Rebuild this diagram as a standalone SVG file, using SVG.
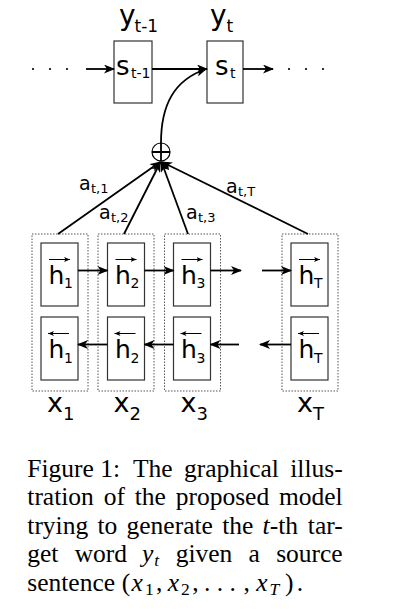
<svg xmlns="http://www.w3.org/2000/svg" width="400" height="614" viewBox="0 0 400 614">
<style>
.lbl{font-family:"DejaVu Sans","Bitstream Vera Sans",sans-serif;fill:#000}
.box{fill:#fff;stroke:#333;stroke-width:1.2}
.outer{fill:none;stroke:#555;stroke-width:1;stroke-dasharray:1.5 1.5}
.con{fill:none;stroke:#000;stroke-width:1.8}
.vec{fill:none;stroke:#000;stroke-width:1}
.cap{font-family:"Liberation Serif","Times New Roman",serif;font-size:25.5px;fill:#000}
.it{font-style:italic}
.sub{font-size:17.5px}
</style>
<defs>
<marker id="arr" viewBox="0 0 11 9" refX="10" refY="4.5" markerWidth="11" markerHeight="9" markerUnits="userSpaceOnUse" orient="auto">
<path d="M0,0 L11,4.5 L0,9 L3,4.5 z" fill="#000"/>
</marker>
<marker id="sarr" viewBox="0 0 6 5" refX="6" refY="2.5" markerWidth="6" markerHeight="5" markerUnits="userSpaceOnUse" orient="auto">
<path d="M0,0 L6,2.5 L0,5 L1.5,2.5 z" fill="#000"/>
</marker>
</defs>
<rect width="400" height="614" fill="#fff"/>

<!-- decoder -->
<g id="y_prev" class="lbl"><text x="119" y="25" font-size="28">y</text><text x="134.5" y="32" font-size="17">t-1</text></g>
<g id="y_t" class="lbl"><text x="210" y="25" font-size="28">y</text><text x="226.5" y="32" font-size="17">t</text></g>
<g id="s_prev"><rect class="box" x="114" y="41" width="38" height="62"/><g class="lbl"><text x="116" y="75" font-size="26">s</text><text x="131" y="78" font-size="14">t-1</text></g></g>
<g id="s_t"><rect class="box" x="207" y="41" width="36" height="62"/><g class="lbl"><text x="215" y="75" font-size="26">s</text><text x="230" y="78" font-size="14">t</text></g></g>
<g id="dots_left" fill="#000"><circle cx="33" cy="69" r="1.1"/><circle cx="50" cy="69" r="1.1"/><circle cx="67" cy="69" r="1.1"/></g>
<g id="dots_right" fill="#000"><circle cx="289" cy="69" r="1.1"/><circle cx="306" cy="69" r="1.1"/><circle cx="323" cy="69" r="1.1"/></g>

<!-- sum node -->
<g id="sum"><circle cx="161" cy="152" r="9" fill="#fff" stroke="#000" stroke-width="1.2"/><path d="M152,152 H170 M161,143 V161" stroke="#000" stroke-width="1.8"/></g>

<!-- encoder columns -->
<g id="col1">
<rect class="outer" x="32" y="234" width="56" height="157"/>
<rect class="box" x="41" y="243" width="37" height="63"/>
<rect class="box" x="41" y="317" width="37" height="63"/>
<g class="lbl"><text x="48.5" y="284" font-size="25">h</text><text x="64" y="288" font-size="14">1</text>
<text x="48.5" y="358" font-size="25">h</text><text x="64" y="362.5" font-size="14">1</text>
<text x="47" y="412" font-size="27">x</text><text x="63" y="420" font-size="18">1</text></g>
<line class="vec" x1="49" y1="259.5" x2="70" y2="259.5" marker-end="url(#sarr)"/>
<line class="vec" x1="69" y1="333.5" x2="48" y2="333.5" marker-end="url(#sarr)"/>
</g>
<g id="col2">
<rect class="outer" x="98" y="234" width="56" height="157"/>
<rect class="box" x="107.5" y="243" width="37" height="63"/>
<rect class="box" x="107.5" y="317" width="37" height="63"/>
<g class="lbl"><text x="115" y="284" font-size="25">h</text><text x="130.5" y="288" font-size="14">2</text>
<text x="115" y="358" font-size="25">h</text><text x="130.5" y="362.5" font-size="14">2</text>
<text x="113.5" y="412" font-size="27">x</text><text x="129.5" y="420" font-size="18">2</text></g>
<line class="vec" x1="115.5" y1="259.5" x2="136.5" y2="259.5" marker-end="url(#sarr)"/>
<line class="vec" x1="135.5" y1="333.5" x2="114.5" y2="333.5" marker-end="url(#sarr)"/>
</g>
<g id="col3">
<rect class="outer" x="164.5" y="234" width="56" height="157"/>
<rect class="box" x="173.5" y="243" width="37" height="63"/>
<rect class="box" x="173.5" y="317" width="37" height="63"/>
<g class="lbl"><text x="181" y="284" font-size="25">h</text><text x="196.5" y="288" font-size="14">3</text>
<text x="181" y="358" font-size="25">h</text><text x="196.5" y="362.5" font-size="14">3</text>
<text x="180.5" y="412" font-size="27">x</text><text x="196.5" y="420" font-size="18">3</text></g>
<line class="vec" x1="181.5" y1="259.5" x2="202.5" y2="259.5" marker-end="url(#sarr)"/>
<line class="vec" x1="201.5" y1="333.5" x2="180.5" y2="333.5" marker-end="url(#sarr)"/>
</g>
<g id="colT">
<rect class="outer" x="282" y="234" width="56" height="157"/>
<rect class="box" x="291" y="243" width="37" height="63"/>
<rect class="box" x="291" y="317" width="37" height="63"/>
<g class="lbl"><text x="298.5" y="284" font-size="25">h</text><text x="314" y="288" font-size="14">T</text>
<text x="298.5" y="358" font-size="25">h</text><text x="314" y="362.5" font-size="14">T</text>
<text x="297" y="412" font-size="27">x</text><text x="313" y="420" font-size="18">T</text></g>
<line class="vec" x1="299" y1="259.5" x2="320" y2="259.5" marker-end="url(#sarr)"/>
<line class="vec" x1="319" y1="333.5" x2="298" y2="333.5" marker-end="url(#sarr)"/>
</g>

<!-- connectors -->
<g id="connectors">
<line class="con" x1="86" y1="69" x2="114" y2="69" marker-end="url(#arr)"/>
<line class="con" x1="152" y1="69" x2="207" y2="69" marker-end="url(#arr)"/>
<line class="con" x1="243" y1="69" x2="273" y2="69" marker-end="url(#arr)"/>
<path class="con" d="M161,143 C161,105 174,80 206,69" marker-end="url(#arr)"/>
<line class="con" x1="58" y1="234" x2="160" y2="162" marker-end="url(#arr)"/>
<line class="con" x1="124" y1="234" x2="160.5" y2="162" marker-end="url(#arr)"/>
<line class="con" x1="188" y1="234" x2="161.5" y2="162" marker-end="url(#arr)"/>
<line class="con" x1="308" y1="234" x2="162" y2="162" marker-end="url(#arr)"/>
<line class="con" x1="78" y1="270.5" x2="107.5" y2="270.5" marker-end="url(#arr)"/>
<line class="con" x1="144.5" y1="270.5" x2="173.5" y2="270.5" marker-end="url(#arr)"/>
<line class="con" x1="210.5" y1="270.5" x2="241" y2="270.5" marker-end="url(#arr)"/>
<line class="con" x1="262" y1="270.5" x2="291" y2="270.5" marker-end="url(#arr)"/>
<line class="con" x1="107.5" y1="344.5" x2="78" y2="344.5" marker-end="url(#arr)"/>
<line class="con" x1="173.5" y1="344.5" x2="144.5" y2="344.5" marker-end="url(#arr)"/>
<line class="con" x1="239" y1="344.5" x2="210.5" y2="344.5" marker-end="url(#arr)"/>
<line class="con" x1="291" y1="344.5" x2="260" y2="344.5" marker-end="url(#arr)"/>
</g>

<!-- attention weights -->
<g id="weights" class="lbl">
<text x="79" y="190" font-size="19">a</text><text x="91" y="193" font-size="13">t,1</text>
<text x="99" y="219" font-size="19">a</text><text x="111" y="222" font-size="13">t,2</text>
<text x="186" y="219" font-size="19">a</text><text x="198" y="222" font-size="13">t,3</text>
<text x="226" y="193" font-size="19">a</text><text x="238" y="196" font-size="13">t,T</text>
</g>

<!-- caption -->
<g id="caption" class="cap">
<text x="27.3" y="476.5">Figure 1:</text><text x="133" y="476.5">The</text><text x="184" y="476.5">graphical</text><text x="342.7" y="476.5" text-anchor="end">illus-</text>
<text x="27.3" y="505">tration</text><text x="103.7" y="505">of</text><text x="134.7" y="505">the</text><text x="175.7" y="505">proposed</text><text x="342.7" y="505" text-anchor="end">model</text>
<text x="27.3" y="533.5">trying</text><text x="97.5" y="533.5">to</text><text x="126.5" y="533.5">generate</text><text x="222.2" y="533.5">the</text><text x="262.6" y="533.5"><tspan class="it">t</tspan>-th</text><text x="342.7" y="533.5" text-anchor="end">tar-</text>
<text x="27.3" y="562">get</text><text x="74.7" y="562">word</text><text x="142" y="562" class="it">y<tspan class="sub" dx="1" dy="4">t</tspan></text><text x="175.7" y="562">given</text><text x="248.6" y="562">a</text><text x="342.7" y="562" text-anchor="end">source</text>
<text x="27.3" y="590.5">sentence</text>
<g id="math">
<text x="121.7" y="590.5">(</text>
<text x="131.6" y="590.5" class="it">x</text><text x="144.9" y="594.5" class="sub">1</text>
<text x="156.1" y="590.5">,</text>
<text x="167.8" y="590.5" class="it">x</text><text x="181.1" y="594.5" class="sub">2</text>
<text x="192.3" y="590.5">,</text>
<text x="204" y="590.5">.</text><text x="216.8" y="590.5">.</text><text x="229.6" y="590.5">.</text>
<text x="243.4" y="590.5">,</text>
<text x="256.2" y="590.5" class="it">x</text><text x="269.5" y="594.5" class="it sub">T</text>
<text x="285" y="590.5">)</text><text x="296.8" y="590.5">.</text>
</g>
</g>
</svg>
